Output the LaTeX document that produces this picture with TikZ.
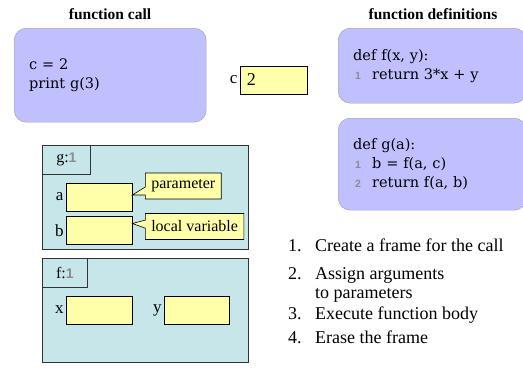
\documentclass[tikz,border=0pt]{standalone}
\usepackage{fontspec}
\setmainfont{Liberation Serif}
\newfontfamily\codefont{DejaVu Serif}
\newfontfamily\numfont{Liberation Sans}
\usepackage{tikz}
\usetikzlibrary{positioning, shapes.callouts}

\definecolor{codeblue}{RGB}{192,192,255}
\definecolor{framecyan}{RGB}{198,230,233}
\definecolor{slotyellow}{RGB}{255,255,170}
\definecolor{lnumgray}{RGB}{140,140,140}

\newcommand{\lnum}[1]{\makebox[19pt][l]{\hspace{2pt}\numfont\bfseries\fontsize{10.5}{10.5}\selectfont\color{lnumgray}#1}}
\newcommand{\fnum}[1]{{\numfont\bfseries\fontsize{14}{14}\selectfont\color{lnumgray}#1}}

\tikzset{
  title/.style={font=\bfseries\fontsize{15.5}{16}\selectfont},
  codebox/.style={draw=gray!75, fill=codeblue, rounded corners=12pt, align=left,
    anchor=north west, inner xsep=15pt, font=\codefont\fontsize{14.5}{19}\selectfont},
  frame/.style={draw=black!80, fill=framecyan, line width=0.8pt, anchor=north west,
    minimum width=206pt, minimum height=104pt, inner sep=0pt},
  tab/.style={draw=black!80, line width=0.8pt, anchor=north west, minimum height=29pt,
    inner sep=0pt, font=\fontsize{16}{16}\selectfont},
  slot/.style={draw=black, fill=slotyellow, line width=0.6pt, minimum width=66pt,
    minimum height=28pt, inner sep=0pt},
  varname/.style={anchor=east, inner sep=2pt, font=\fontsize{17}{17}\selectfont},
  note/.style={rectangle callout, draw=black, fill=slotyellow, line width=0.6pt,
    anchor=west, inner xsep=6pt, minimum height=26pt, callout pointer width=8pt,
    font=\fontsize{16}{16}\selectfont},
  stepnum/.style={anchor=base west, inner sep=0pt, font=\fontsize{18}{19}\selectfont},
  steptext/.style={anchor=base west, inner sep=0pt, font=\fontsize{18}{19}\selectfont}
}

\begin{document}
\begin{tikzpicture}[x=1pt, y=-1pt]
\useasboundingbox (0,0) rectangle (523,368);

% Titles
\node[title] (calltitle) at (110,14) {function call};
\node[title] (deftitle) at (433,14) {function definitions};

% Code
\node[codebox, text width=162pt, minimum height=94pt] (call) at (14,28) {c = 2\\print g(3)};
\node[codebox, text width=158pt, minimum height=75pt] (fdef) at (338,28)
  {def f(x, y):\\\lnum{1}return 3*x + y};
\node[codebox, text width=158pt, minimum height=92pt] (gdef) at (338,118)
  {def g(a):\\\lnum{1}b = f(a, c)\\\lnum{2}return f(a, b)};

% Global variable
\node[slot, minimum width=67pt] (cslot) at (273.5,80) {};
\node[anchor=west, inner sep=0pt, font=\fontsize{18}{18}\selectfont] (cval) at ([xshift=7pt]cslot.west) {2};
\node[varname] (cname) at (cslot.west) {c};

% Frame of g
\node[frame] (gframe) at (42,145) {};
\node[tab, minimum width=48pt] (gtab) at (gframe.north west) {g:\fnum{1}};
\node[slot] (aslot) at (99,197) {};
\node[slot] (bslot) at (99,230.5) {};
\node[varname] (aname) at (aslot.west) {a};
\node[varname] (bname) at (bslot.west) {b};
\node[note, callout absolute pointer={([yshift=2pt]aslot.east)}] (param) at (145,186) {parameter};
\node[note, callout absolute pointer={([yshift=7pt]bslot.east)}] (local) at (145,226.5) {local variable};

% Frame of f
\node[frame] (fframe) at (42,258) {};
\node[tab, minimum width=45pt] (ftab) at (fframe.north west) {f:\fnum{1}};
\node[slot] (xslot) at (99,310) {};
\node[slot, minimum width=65pt] (yslot) at (196.5,310) {};
\node[varname] (xname) at (xslot.west) {x};
\node[varname] (yname) at (yslot.west) {y};

% Steps
\node[stepnum] (n1) at (288,251) {1.};
\node[steptext] (s1) at (315,251) {Create a frame for the call};
\node[stepnum] (n2) at (288,279) {2.};
\node[steptext] (s2) at (315,279) {Assign arguments};
\node[steptext] (s2b) at (315,298) {to parameters};
\node[stepnum] (n3) at (288,319) {3.};
\node[steptext] (s3) at (315,319) {Execute function body};
\node[stepnum] (n4) at (288,343) {4.};
\node[steptext] (s4) at (315,343) {Erase the frame};
\end{tikzpicture}
\end{document}
